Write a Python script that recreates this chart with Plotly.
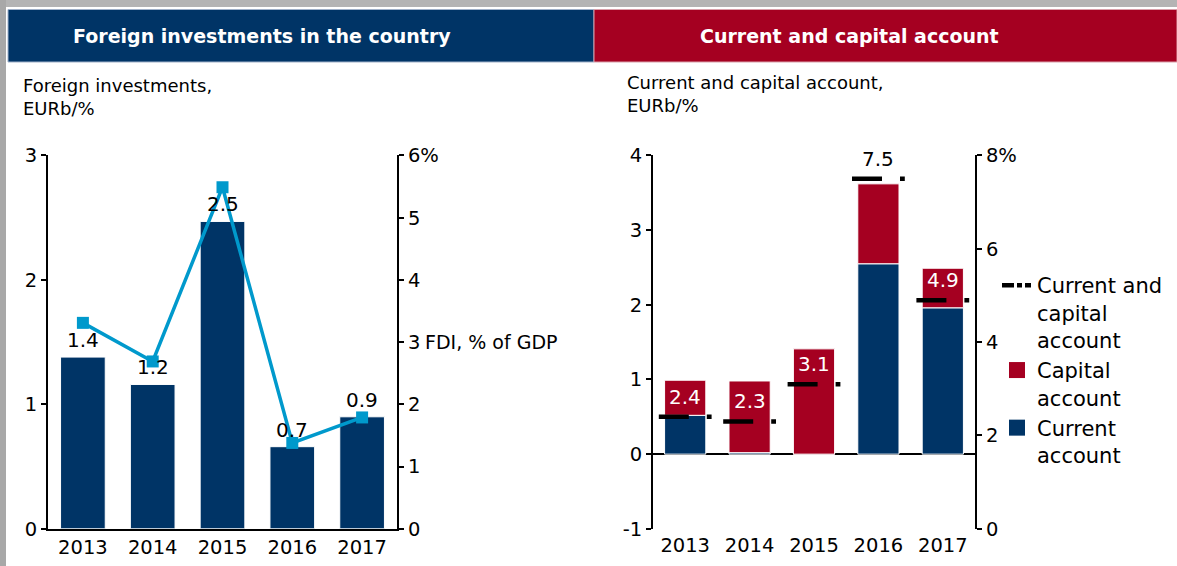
import plotly.graph_objects as go

# ---------------- data ----------------
years = ["2013", "2014", "2015", "2016", "2017"]
fdi_eur = [1.38, 1.16, 2.47, 0.66, 0.90]          # EURb (bars, left chart)
fdi_gdp = [3.31, 2.69, 5.49, 1.38, 1.79]          # % of GDP (line, left chart)
current_acc = [0.52, 0.02, 0.0, 2.55, 1.96]       # EURb (navy bars, right chart)
capital_acc = [0.47, 0.96, 1.41, 1.07, 0.53]      # EURb (red bars, right chart)
cca_gdp = [2.4, 2.3, 3.1, 7.5, 4.9]               # % of GDP (dash markers, right chart)
cca_label_colors = ["white", "white", "white", "black", "white"]

left_y_ticks = [0, 1, 2, 3]
left_y2_ticks = [0, 1, 2, 3, 4, 5, 6]
right_y_ticks = [-1, 0, 1, 2, 3, 4]
right_y2_ticks = [0, 2, 4, 6, 8]

NAVY = "#003466"
RED = "#A50021"
BLUE = "#0099CC"
FONT = "DejaVu Sans"
W, H = 1177, 566

idx = list(range(len(years)))

fig = go.Figure()

# ---------- left chart ----------
fig.add_trace(go.Bar(x=idx, y=fdi_eur, marker=dict(color=NAVY, line=dict(color="white", width=1)),
                     xaxis="x", yaxis="y", showlegend=False, hoverinfo="skip"))
fig.add_trace(go.Scatter(x=idx, y=fdi_gdp, mode="lines+markers",
                         line=dict(color=BLUE, width=3.5),
                         marker=dict(symbol="square", size=12, color=BLUE),
                         xaxis="x", yaxis="y2", showlegend=False, hoverinfo="skip"))

# ---------- right chart ----------
fig.add_trace(go.Bar(x=idx, y=current_acc, marker=dict(color=NAVY, line=dict(color="white", width=1)),
                     xaxis="x2", yaxis="y3", showlegend=False, hoverinfo="skip"))
fig.add_trace(go.Bar(x=idx, y=capital_acc, marker=dict(color=RED, line=dict(color="white", width=1)),
                     xaxis="x2", yaxis="y3", showlegend=False, hoverinfo="skip"))

dash_x, dash_y = [], []
for i, v in zip(idx, cca_gdp):
    dash_x += [i - 0.41, i + 0.41, None]
    dash_y += [v, v, None]
fig.add_trace(go.Scatter(x=dash_x, y=dash_y, mode="lines", connectgaps=False,
                         line=dict(color="black", width=4.5, dash="30px,18px,5px,60px"),
                         xaxis="x2", yaxis="y4", showlegend=False, hoverinfo="skip"))

# legend entries
fig.add_trace(go.Scatter(x=[None], y=[None], mode="lines", name="Current and<br>capital<br>account",
                         line=dict(color="black", width=4.5, dash="12px,3px,5px,3px,6px"),
                         xaxis="x2", yaxis="y4"))
fig.add_trace(go.Scatter(x=[None], y=[None], mode="markers", name="Capital<br>account",
                         marker=dict(symbol="square", size=16, color=RED),
                         xaxis="x2", yaxis="y4"))
fig.add_trace(go.Scatter(x=[None], y=[None], mode="markers", name="Current<br>account",
                         marker=dict(symbol="square", size=16, color=NAVY),
                         xaxis="x2", yaxis="y4"))

annotations = []
for i, v in zip(idx, fdi_eur):
    annotations.append(dict(x=i, y=v, xref="x", yref="y", text=f"{v:.1f}", showarrow=False,
                            yanchor="middle", yshift=17, font=dict(family=FONT, size=20, color="black")))
for i, v, c in zip(idx, cca_gdp, cca_label_colors):
    annotations.append(dict(x=i, y=v, xref="x2", yref="y4", text=f"{v:.1f}", showarrow=False,
                            yanchor="middle", yshift=20, font=dict(family=FONT, size=20, color=c)))

def px_x(p):
    return p / W

def px_y(p):
    return 1 - p / H

annotations += [
    dict(x=px_x(261.5), y=px_y(36), xref="paper", yref="paper", text="<b>Foreign investments in the country</b>",
         showarrow=False, xanchor="center", yanchor="middle", font=dict(family=FONT, size=19, color="white")),
    dict(x=px_x(849.5), y=px_y(36), xref="paper", yref="paper", text="<b>Current and capital account</b>",
         showarrow=False, xanchor="center", yanchor="middle", font=dict(family=FONT, size=19, color="white")),
    dict(x=px_x(21), y=px_y(73), xref="paper", yref="paper", text="Foreign investments,<br>EURb/%",
         showarrow=False, xanchor="left", yanchor="top", align="left", font=dict(family=FONT, size=18, color="black")),
    dict(x=px_x(625), y=px_y(70), xref="paper", yref="paper", text="Current and capital account,<br>EURb/%",
         showarrow=False, xanchor="left", yanchor="top", align="left", font=dict(family=FONT, size=18, color="black")),
    dict(x=px_x(423), y=3, xref="paper", yref="y2", text="FDI, % of GDP",
         showarrow=False, xanchor="left", yanchor="middle", font=dict(family=FONT, size=19, color="black")),
]

shapes = [
    dict(type="rect", xref="paper", yref="paper", x0=0, x1=1, y0=px_y(7), y1=1, fillcolor="#b4b4b4", line=dict(width=0), layer="below"),
    dict(type="rect", xref="paper", yref="paper", x0=0, x1=px_x(6), y0=0, y1=1, fillcolor="#a8a8a8", line=dict(width=0), layer="below"),
    dict(type="rect", xref="paper", yref="paper", x0=px_x(8), x1=px_x(594), y0=px_y(62), y1=px_y(9.5), fillcolor=NAVY,
         line=dict(color="#9fb0c8", width=1), layer="below"),
    dict(type="rect", xref="paper", yref="paper", x0=px_x(594), x1=1, y0=px_y(62), y1=px_y(9.5), fillcolor=RED,
         line=dict(color="#d8a0aa", width=1), layer="below"),
]

tickfont = dict(family=FONT, size=19.5, color="black")
axis_common = dict(showgrid=False, zeroline=False, showline=True, linecolor="black", linewidth=2,
                   ticks="outside", ticklen=5, tickwidth=2, tickcolor="black", tickfont=tickfont,
                   automargin=False, fixedrange=True)

ydom = [0.0657, 0.7253]
fig.update_layout(
    template="none",
    width=W, height=H,
    margin=dict(l=0, r=0, t=0, b=0, pad=0, autoexpand=False),
    paper_bgcolor="white", plot_bgcolor="white",
    barmode="relative", bargap=0.36,
    font=dict(family=FONT, size=19, color="black"),
    xaxis=dict(domain=[px_x(48), px_x(397)], anchor="y", type="linear", range=[-0.5, 4.5], tickvals=idx,
               ticktext=years, showgrid=False, zeroline=False,
               showline=True, linecolor="black", linewidth=2, ticks="", tickfont=tickfont,
               automargin=False, fixedrange=True),
    yaxis=dict(domain=ydom, anchor="x", range=[0, 3], tickvals=left_y_ticks,
               ticktext=[str(t) for t in left_y_ticks], **axis_common),
    yaxis2=dict(overlaying="y", side="right", anchor="x", range=[0, 6], tickvals=left_y2_ticks,
                ticktext=[str(t) for t in left_y2_ticks[:-1]] + [f"{left_y2_ticks[-1]}%"], **axis_common),
    xaxis2=dict(domain=[px_x(653), px_x(975)], anchor="y3", type="linear", range=[-0.5, 4.5], tickvals=idx,
                ticktext=years, showgrid=False, zeroline=False, showline=False, ticks="", tickfont=tickfont,
                ticklabelstandoff=3, automargin=False, fixedrange=True),
    yaxis3=dict(domain=ydom, anchor="x2", range=[-1, 4], tickvals=right_y_ticks,
                ticktext=[str(t) for t in right_y_ticks], **{**axis_common, "zeroline": True},
                zerolinecolor="black", zerolinewidth=2),
    yaxis4=dict(overlaying="y3", side="right", anchor="x2", range=[0, 8], tickvals=right_y2_ticks,
                ticktext=[str(t) for t in right_y2_ticks[:-1]] + [f"{right_y2_ticks[-1]}%"], **axis_common),
    legend=dict(x=px_x(997), y=px_y(265), xanchor="left", yanchor="top", valign="top",
                font=dict(family=FONT, size=21, color="black"), bgcolor="rgba(0,0,0,0)",
                traceorder="normal", itemwidth=30, tracegroupgap=0, borderwidth=0),
    annotations=annotations,
    shapes=shapes,
)

fig.write_html("out.html", config={"displayModeBar": False},
               post_script="document.body.style.margin='0';document.body.style.overflow='hidden';")
